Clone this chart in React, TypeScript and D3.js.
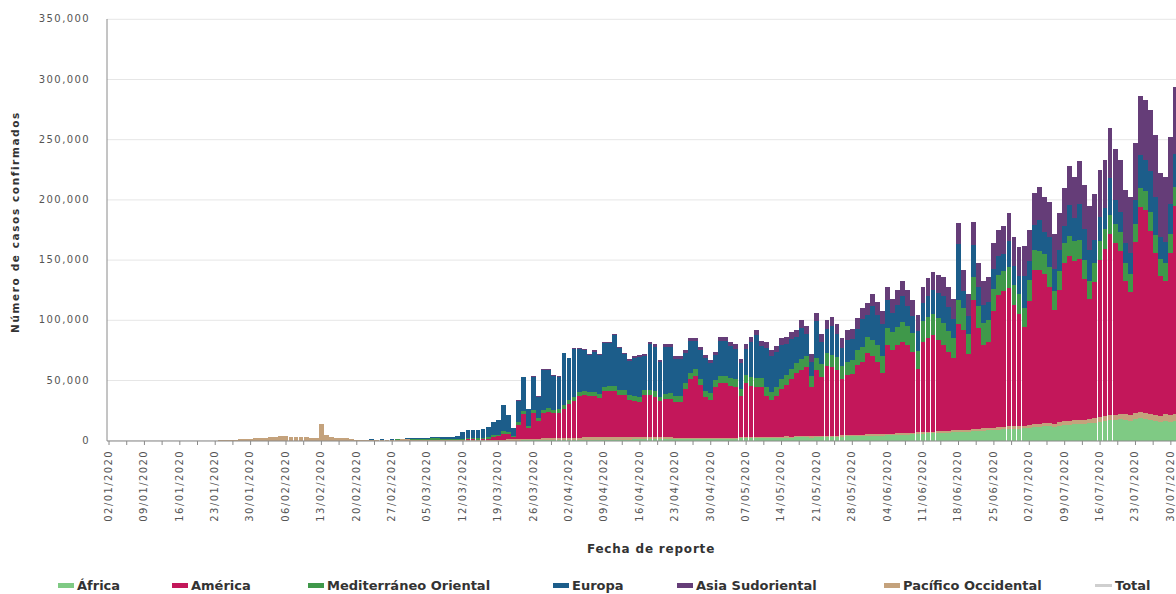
import React from 'react';
import * as d3 from 'd3';

// Daily new confirmed cases (thousands), from 02/01/2020, by WHO region
const africa = [
  0,0,0,0,0,0,0,0,0,0,
  0,0,0,0,0,0,0,0,0,0,
  0,0,0,0,0,0,0,0,0,0,
  0,0,0,0,0,0,0,0,0,0,
  0,0,0,0,0,0,0,0,0,0,
  0,0,0,0,0,0,0,0,0,0,
  0,0,0,0,0,0.01,0.01,0.01,0.01,0.01,
  0.01,0.01,0.02,0.02,0.03,0.04,0.05,0.07,0.1,0.1,
  0.1,0.15,0.2,0.2,0.3,0.3,0.4,0.4,0.45,0.5,
  0.5,0.5,0.6,0.6,0.6,0.7,0.7,0.7,0.8,0.8,
  0.8,0.9,0.9,0.9,1.0,1.0,1.0,1.1,1.1,1.1,
  1.2,1.2,1.2,1.3,1.3,1.3,1.4,1.4,1.4,1.5,
  1.5,1.6,1.7,1.6,1.8,1.9,2.0,2.1,2.0,2.2,
  2.3,2.1,2.4,2.5,2.6,2.4,2.7,2.8,2.9,2.6,
  3.0,3.1,3.2,3.3,3.1,3.4,3.5,3.6,3.8,3.9,
  4.0,4.1,4.3,4.2,4.5,4.7,4.9,5.1,5.0,5.3,
  5.6,5.8,6.0,6.2,6.5,6.3,6.7,7.0,7.2,7.5,
  7.3,7.8,8.0,8.3,8.5,8.8,9.0,9.4,9.8,9.5,
  10.0,10.3,10.8,11.0,11.5,11.8,12.0,11.5,12.5,13.0,
  13.2,13.8,14.0,13.5,14.5,15.0,15.5,16.0,16.8,17.5,
  18.0,17.2,16.5,18.0,18.5,17.8,17.0,16.0,15.5,16.5,
  15.8,16.0,
];

const america = [
  0,0,0,0,0,0,0,0,0,0,
  0,0,0,0,0,0,0,0,0,0,
  0,0,0,0,0,0,0,0,0,0,
  0,0,0,0,0,0,0,0,0,0,
  0,0,0,0,0,0,0,0,0,0,
  0,0,0,0,0,0,0,0.01,0.02,0.02,
  0.03,0.03,0.05,0.06,0.08,0.1,0.15,0.2,0.25,0.3,
  0.5,0.7,0.6,0.5,0.6,1.2,2.5,2.8,5,4.5,
  1.6,12,21,9,21,15,21,22,21,21,
  24.5,28.5,30.4,34.4,35.4,34.3,34.3,32.3,38.2,38.2,
  38.2,35.1,35.1,31.1,30,29,35,34.9,33.9,29.9,
  31.8,31.8,29.8,29.7,40.7,48.7,51.6,43.6,33.6,31.5,
  42.5,45.4,45.3,43.4,42.2,34.1,45,42.9,42,41.8,
  33.7,30.9,33.6,39.5,42.4,47.6,52.3,55.2,57.1,41.4,
  55,48.9,57.8,56.7,54.9,46.6,49.5,50.4,58.2,60.1,
  68,64.9,59.7,50.8,73.5,69.3,73.1,75.9,73,66.7,
  52.4,75.2,78,79.8,75.5,71.7,65.3,60,87.8,82.5,
  62.7,107.2,84,69.7,71.5,97.2,110,112.6,115.2,100.5,
  93,81.7,103.2,128,127.5,124.2,113,94.5,109.5,132,
  136.8,132.2,133,117.5,99.5,113,130.5,139,150.2,142.5,
  135,110.8,102.5,142,170.5,168.2,152,134,115.5,110.5,
  134.2,173,
];

const medOriental = [
  0,0,0,0,0,0,0,0,0,0,
  0,0,0,0,0,0,0,0,0,0,
  0,0,0,0,0,0,0,0,0,0,
  0,0,0,0,0,0,0,0,0,0,
  0,0,0,0,0,0,0,0,0,0,
  0.02,0.03,0.05,0.06,0.1,0.12,0.15,0.2,0.25,0.4,
  0.55,0.7,0.8,0.6,1.2,1.3,1.1,0.9,0.6,0.9,
  1.0,1.1,1.2,1.3,1.2,1.4,1.5,1.5,1.8,1.6,
  0.8,2.0,2.6,1.5,2.6,2.0,3.0,3.0,2.8,2.9,
  3.0,3.2,3.3,3.5,3.4,3.2,3.3,3.5,3.6,3.8,
  3.9,3.7,3.5,3.6,3.8,4.0,4.2,4.4,4.3,4.0,
  4.5,4.8,4.6,4.7,5.0,5.3,5.5,5.2,5.0,5.6,
  5.5,5.8,6.0,6.2,6.5,6.3,6.8,7.0,7.2,7.5,
  7.3,7.0,7.8,8.2,8.5,8.8,9.0,9.2,9.5,8.8,
  10.0,10.3,10.5,10.2,10.8,11.0,11.5,11.8,12.0,12.5,
  13.0,13.5,14.0,13.8,14.5,15.0,15.5,16.0,15.8,16.5,
  15.0,17.0,17.5,18.0,18.5,18.0,17.5,17.0,20.0,18.5,
  17.0,19.0,18.0,17.5,18.0,17.5,17.0,17.2,16.8,17.0,
  16.5,16.0,17.0,16.5,16.0,16.5,16.2,15.5,16.0,16.5,
  17.0,16.5,16.0,15.5,15.0,15.8,16.2,16.5,16.0,15.5,
  15.8,15.2,14.8,15.0,16.0,16.5,15.8,15.0,14.5,15.0,
  15.5,16.0,
];

const europa = [
  0,0,0,0,0,0,0,0,0,0,
  0,0,0,0,0,0,0,0,0,0,
  0,0,0,0,0,0,0,0,0,0,
  0,0,0,0,0,0,0,0,0,0,
  0,0,0,0,0,0,0,0,0,0,
  0.01,0.05,0.1,0.1,0.2,0.1,0.2,0.25,0.35,0.5,
  0.6,0.5,0.6,0.8,1.0,1.3,1.6,2.0,2.2,2.3,
  5.5,7,7,7,7,8.5,11,12,22,14,
  7,18,28,14,28,18,33,32,28,27,
  42.8,34.4,40.1,35.7,33.7,30.9,33.5,32.1,36.3,35.6,
  42.3,34.6,30,28.9,31.5,33.5,28.2,38,37.1,28.6,
  39,38.6,31,30.8,24.4,26.1,23.1,24.3,27.4,24.7,
  20.7,29.3,28.9,26.5,25.1,21,21.3,29,35.7,26.1,
  33.2,29.4,29.3,28.7,26,24.4,21.5,25.9,18.4,11.8,
  30.2,18.7,19.9,24,19.2,14.7,17.8,17.3,18,23.1,
  18.2,28.3,25.4,27.2,23,16,18.2,22.3,17.1,13.7,
  16.4,14.9,17.5,19.6,20.6,22.5,20.1,15.5,46.4,14.3,
  14.7,26.8,16.2,15.1,15,16.9,15,13.7,21.5,15.7,
  14.8,26.7,15.6,21,25.4,18.3,25,18.3,17.6,14,
  25.8,19.2,30,26.1,25.4,19.4,19.3,17.4,31.2,20.3,
  16.8,16.2,17.4,20.3,27.5,25.3,33.9,31.5,18.1,17.4,
  25.7,27,
];

const asiaSud = [
  0,0,0,0,0,0,0,0,0,0,
  0,0,0,0,0,0,0,0,0,0,
  0,0,0,0,0,0,0,0,0,0,
  0,0,0,0,0,0,0,0,0,0,
  0,0,0,0,0,0,0,0,0,0,
  0,0,0,0,0,0,0,0,0,0,
  0.01,0.01,0.01,0.02,0.02,0.02,0.01,0.02,0.02,0.02,
  0.02,0.02,0.03,0.03,0.04,0.05,0.05,0.06,0.08,0.1,
  0.1,0.15,0.2,0.15,0.25,0.25,0.3,0.3,0.35,0.4,
  0.5,0.6,0.7,0.8,0.8,0.9,1.0,1.1,1.0,1.2,
  1.3,1.4,1.3,1.5,1.6,1.5,1.7,1.8,1.9,1.8,
  2.0,2.1,2.0,2.2,2.3,2.4,2.3,2.5,2.6,2.7,
  2.8,3.0,3.2,3.5,3.6,3.8,4.0,4.2,4.3,4.5,
  4.6,4.8,5.0,5.2,5.5,5.8,5.6,6.0,6.3,6.5,
  6.8,7.0,7.5,7.8,8.0,8.2,8.5,8.8,9.0,9.3,
  9.6,10.0,10.5,10.8,11.2,11.8,12.0,12.5,13.0,13.5,
  13.2,13.8,14.5,15.0,15.5,16.0,16.8,17.0,18.0,17.5,
  18.5,19.5,20.0,20.5,21.0,21.5,22.0,23.0,23.5,24.0,
  24.5,25.0,26.0,27.0,28.0,28.5,29.0,29.5,30.5,31.5,
  32.0,34.0,35.5,36.0,37.0,38.0,39.5,40.0,41.5,42.0,
  43.0,44.0,46.0,47.0,48.5,50.0,51.0,52.0,53.0,54.0,
  55.0,56.0,
];

const pacifico = [
  0,0,0,0,0,0,0,0,0,0.04,
  0,0,0,0,0,0,0,0,0.1,0.08,
  0.15,0.13,0.27,0.45,0.69,0.77,1.77,1.46,1.74,1.98,
  2.1,2.6,2.83,3.24,3.9,3.7,3.16,3.4,2.66,3.0,
  2.48,2.02,14.2,5.1,2.66,2.02,2.06,1.9,1.76,0.4,
  0.9,0.84,0.9,0.48,0.75,0.56,0.75,0.9,1.0,1.4,
  0.8,0.75,0.6,0.7,0.65,0.55,0.4,0.3,0.35,0.3,
  0.3,0.3,0.4,0.4,0.5,0.5,0.6,0.7,0.8,0.9,
  1.0,1.1,1.2,1.3,1.3,1.4,1.5,1.5,1.6,1.6,
  1.7,1.8,1.9,2.0,2.1,2.0,2.2,2.3,2.1,2.4,
  2.5,2.3,2.2,2.0,2.1,2.0,1.9,1.8,1.7,1.6,
  1.5,1.5,1.4,1.3,1.3,1.2,1.1,1.0,1.0,1.0,
  1.0,0.9,0.9,0.8,0.8,0.9,0.9,0.8,0.8,0.9,
  0.9,0.8,0.9,0.9,1.0,1.0,0.9,0.9,0.8,0.9,
  1.0,1.0,1.1,1.0,1.0,1.1,1.2,1.1,1.0,1.1,
  1.2,1.2,1.1,1.2,1.3,1.2,1.3,1.2,1.1,1.3,
  1.4,1.3,1.5,1.4,1.4,1.5,1.6,1.5,1.6,1.7,
  1.8,1.7,1.8,1.9,2.0,2.1,2.0,2.1,2.2,2.3,
  2.2,2.3,2.4,2.5,2.6,2.7,2.8,2.7,2.9,3.0,
  3.2,3.3,3.5,3.4,3.6,3.8,4.0,4.1,4.3,4.2,
  4.4,4.6,4.8,4.7,5.0,5.2,5.3,5.5,5.4,5.6,
  5.8,6.0,
];

// legend order
const seriesNames = ['África', 'América', 'Mediterráneo Oriental', 'Europa', 'Asia Sudoriental', 'Pacífico Occidental'];
const seriesData = [africa, america, medOriental, europa, asiaSud, pacifico];
const seriesColors = ['#7fca84', '#c3175a', '#3f984a', '#1c5d8a', '#653d78', '#c4a27c'];
// stacking order as seen in the picture (bottom → top)
const stackOrder = ['África', 'Pacífico Occidental', 'América', 'Mediterráneo Oriental', 'Europa', 'Asia Sudoriental'];
const yTicks = [0, 50000, 100000, 150000, 200000, 250000, 300000, 350000];
const startDate = new Date(2020, 0, 2);

// legend layout (x positions of swatches)
const legendX = [58, 172, 308, 553, 677, 884];
const totalLegendX = 1095;

export default function App() {
  const W = 1176, H = 594;
  const n = africa.length;
  const dates = d3.range(n).map(i => d3.timeDay.offset(startDate, i));
  const fmt = d3.timeFormat('%d/%m/%Y');
  const labels = dates.map(d => fmt(d));
  const rows = labels.map((l, i) => {
    const r: any = { date: l };
    seriesNames.forEach((k, j) => { r[k] = (seriesData[j][i] || 0) * 1000; });
    return r;
  });
  const stacked = d3.stack().keys(stackOrder)(rows);
  const colorOf = (k: string) => seriesColors[seriesNames.indexOf(k)];

  const x = d3.scaleBand().domain(labels).range([106.5, 1178.2]).paddingInner(0.05).paddingOuter(0);
  const y = d3.scaleLinear().domain([0, 350000]).range([440.7, 19.3]);
  const bw = x.bandwidth();
  const step = x.step();

  const tickIdx = d3.range(0, n, 7);
  const minorIdx = d3.range(0, n, 3.5);
  const fmtNum = d3.format(',');

  const font = 'DejaVu Sans, Verdana, sans-serif';

  return (
    <svg width={W} height={H} viewBox={`0 0 ${W} ${H}`} style={{ position: 'absolute', left: 0, top: 0, background: '#fff' }}>
      <rect x={0} y={0} width={W} height={H} fill="#fff" />
      {/* gridlines */}
      {yTicks.map(t => (
        <line key={'g' + t} x1={107} x2={W} y1={y(t)} y2={y(t)} stroke="#e6e6e6" strokeWidth={1} />
      ))}
      {/* bars */}
      {stacked.map(layer => (
        <g key={layer.key} fill={colorOf(layer.key)} shapeRendering="crispEdges">
          {layer.map((d, i) => {
            const h = y(d[0]) - y(d[1]);
            if (h <= 0) return null;
            return <rect key={i} x={x(labels[i])} y={y(d[1])} width={bw} height={h} />;
          })}
        </g>
      ))}
      {/* axes */}
      <line x1={107} x2={107} y1={19} y2={441} stroke="#8a8a8a" strokeWidth={1} />
      <line x1={107} x2={W} y1={441} y2={441} stroke="#8a8a8a" strokeWidth={1} />
      {minorIdx.map(k => {
        const xi = (x.range()[0]) + step * k + step / 2;
        return <line key={'mt' + k} x1={xi} x2={xi} y1={441} y2={445} stroke="#8a8a8a" strokeWidth={1} />;
      })}
      {/* y tick labels */}
      {yTicks.map(t => (
        <text key={'yt' + t} x={90} y={y(t)} textAnchor="end" dominantBaseline="middle"
          fontFamily={font} fontSize={10} letterSpacing={1.4} fill="#555">{fmtNum(t)}</text>
      ))}
      {/* x tick labels */}
      {tickIdx.map(i => {
        const cx = (x(labels[i]) as number) + bw / 2;
        return (
          <text key={'xt' + i} transform={`translate(${cx},${450}) rotate(-90)`} textAnchor="end"
            dominantBaseline="middle" fontFamily={font} fontSize={10} letterSpacing={1.4} fill="#555">{labels[i]}</text>
        );
      })}
      {/* axis titles */}
      <text transform={`translate(16,222) rotate(-90)`} textAnchor="middle" dominantBaseline="middle"
        fontFamily={font} fontSize={10.5} fontWeight="bold" letterSpacing={1.6} fill="#333">Número de casos confirmados</text>
      <text x={651} y={549} textAnchor="middle" dominantBaseline="middle"
        fontFamily={font} fontSize={12} fontWeight="bold" letterSpacing={0.8} fill="#333">Fecha de reporte</text>
      {/* legend */}
      {seriesNames.map((name, i) => (
        <g key={'lg' + name}>
          <rect x={legendX[i]} y={583} width={16} height={5} fill={seriesColors[i]} />
          <text x={legendX[i] + 19} y={586} dominantBaseline="middle" fontFamily={font} fontSize={13}
            fontWeight="bold" fill="#333">{name}</text>
        </g>
      ))}
      <g>
        <line x1={totalLegendX} x2={totalLegendX + 17} y1={585.5} y2={585.5} stroke="#cfcfcf" strokeWidth={3} />
        <text x={totalLegendX + 20} y={586} dominantBaseline="middle" fontFamily={font} fontSize={13}
          fontWeight="bold" fill="#333">Total</text>
      </g>
    </svg>
  );
}
